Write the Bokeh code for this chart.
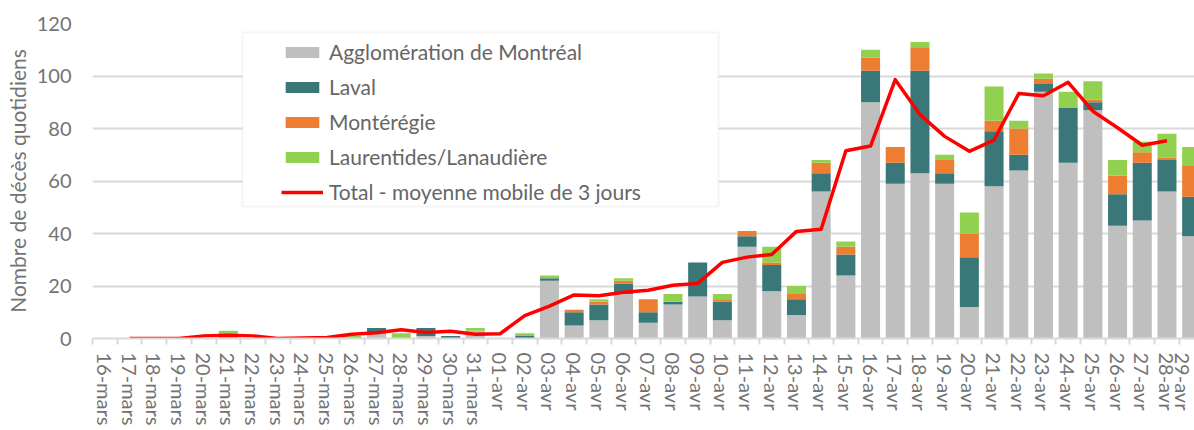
import numpy as np
from bokeh.plotting import figure
from bokeh.models import (ColumnDataSource, Range1d, FixedTicker, CustomJSTickFormatter,
                          BoxAnnotation)
from bokeh.embed import file_html
from bokeh.resources import INLINE

dates = ["16-mars", "17-mars", "18-mars", "19-mars", "20-mars", "21-mars", "22-mars",
         "23-mars", "24-mars", "25-mars", "26-mars", "27-mars", "28-mars", "29-mars",
         "30-mars", "31-mars", "01-avr", "02-avr", "03-avr", "04-avr", "05-avr", "06-avr",
         "07-avr", "08-avr", "09-avr", "10-avr", "11-avr", "12-avr", "13-avr", "14-avr",
         "15-avr", "16-avr", "17-avr", "18-avr", "19-avr", "20-avr", "21-avr", "22-avr",
         "23-avr", "24-avr", "25-avr", "26-avr", "27-avr", "28-avr", "29-avr"]

montreal = [0, 0, 0, 0, 0, 0, 0, 0, 0, 0, 0, 2, 0, 1, 0, 3, 0, 0, 22, 5, 7, 17, 6, 13,
            16, 7, 35, 18, 9, 56, 24, 90, 59, 63, 59, 12, 58, 64, 94, 67, 87, 43, 45, 56, 39]
laval = [0, 0, 0, 0, 0, 0, 0, 0, 0, 0, 0, 2, 0, 3, 1, 0, 0, 1, 1, 5, 6, 4, 4, 1,
         13, 7, 4, 10, 6, 7, 8, 12, 8, 39, 4, 19, 21, 6, 3, 21, 3, 12, 22, 12, 15]
monteregie = [0, 0, 0, 0, 0, 0, 0, 0, 0, 0, 0, 0, 0, 0, 0, 0, 0, 0, 0, 1, 1, 1, 5, 0,
              0, 1, 2, 1, 2, 4, 3, 5, 6, 9, 5, 9, 4, 10, 2, 0, 1, 7, 4, 1, 12]
laurentides = [0, 0, 0, 0, 0, 3, 0, 0, 0, 0, 1, 0, 2, 0, 0, 1, 0, 1, 1, 0, 1, 1, 0, 3,
               0, 2, 0, 6, 3, 1, 2, 3, 0, 2, 2, 8, 13, 3, 2, 6, 7, 6, 4, 9, 7]
moyenne_mobile = [np.nan, 0, 0, 0, 1, 1.2, 1, 0, 0.2, 0.4, 1.6, 2.2, 3.3, 2.3, 2.8, 1.6,
                  1.8, 8.7, 12.3, 16.6, 16.3, 17.6, 18.4, 20.3, 21, 29, 31, 32, 40.8, 41.6,
                  71.5, 73.3, 98.6, 85.3, 77, 71.3, 75.6, 93.3, 92.5, 97.6, 86.6, 80.3,
                  73.6, 75.3, np.nan]

series = ["montreal", "laval", "monteregie", "laurentides"]
series_labels = ["Agglomération de Montréal", "Laval", "Montérégie", "Laurentides/Lanaudière"]
colors = ["#BFBFBF", "#3A7778", "#ED7D31", "#92D050"]
y_ticks = [0, 20, 40, 60, 80, 100, 120]

xs = np.arange(len(dates)) + 0.5
src = ColumnDataSource(dict(x=xs, montreal=montreal, laval=laval, monteregie=monteregie,
                            laurentides=laurentides, ma=moyenne_mobile))

FONT = "Lato"
TXT = "#737373"

p = figure(width=1194, height=430, output_backend="svg", toolbar_location=None,
           x_range=Range1d(0, 44.615), y_range=Range1d(0, 120),
           min_border_left=92, min_border_right=0, min_border_top=23, min_border_bottom=92)
p.outline_line_color = None
p.background_fill_color = "white"

box = BoxAnnotation(left=242, right=718, top=32, bottom=206,
                    left_units="canvas", right_units="canvas",
                    top_units="canvas", bottom_units="canvas",
                    fill_color="white", fill_alpha=1.0,
                    line_color="#d9d9d9", line_width=2)
p.add_layout(box)

p.vbar_stack(series, x="x", width=0.77, color=colors, line_color=None,
             source=src, legend_label=series_labels)
p.line(x="x", y="ma", source=src, line_color="#FF0000", line_width=3.5,
       line_join="round", legend_label="Total - moyenne mobile de 3 jours")

# grid
p.xgrid.grid_line_color = None
p.ygrid.grid_line_color = "#d9d9d9"
p.ygrid.grid_line_width = 2

# x axis
xa = p.xaxis[0]
xa.ticker = FixedTicker(ticks=list(xs), minor_ticks=list(range(0, len(dates) + 1)))
xa.formatter = CustomJSTickFormatter(args=dict(labels=dates),
                                     code="return labels[Math.floor(tick)] || '';")
xa.major_tick_line_color = None
xa.major_tick_out = 0
xa.major_tick_in = 0
xa.minor_tick_out = 6
xa.minor_tick_in = 0
xa.minor_tick_line_color = "#d9d9d9"
xa.minor_tick_line_width = 2
xa.axis_line_color = "#d9d9d9"
xa.axis_line_width = 2
xa.major_label_orientation = "vertical"
xa.major_label_standoff = 8
xa.major_label_text_font = FONT
xa.major_label_text_font_size = "20px"
xa.major_label_text_color = TXT

# y axis
ya = p.yaxis[0]
ya.ticker = FixedTicker(ticks=y_ticks, minor_ticks=[])
ya.axis_line_color = None
ya.major_tick_line_color = None
ya.minor_tick_line_color = None
ya.major_tick_out = 0
ya.major_tick_in = 0
ya.major_label_standoff = 21
ya.major_label_text_font = FONT
ya.major_label_text_font_size = "20px"
ya.major_label_text_color = TXT
ya.axis_label = "Nombre de décès quotidiens"
ya.axis_label_text_font = FONT
ya.axis_label_text_font_size = "21px"
ya.axis_label_text_font_style = "normal"
ya.axis_label_text_color = TXT
ya.axis_label_standoff = 4

# legend
lg = p.legend[0]
lg.location = (189, 134)
lg.background_fill_alpha = 0
lg.border_line_color = None
lg.padding = 5
lg.spacing = 10
lg.label_height = 24
lg.glyph_height = 14
lg.glyph_width = 42
lg.label_standoff = 6
lg.label_text_font = FONT
lg.label_text_font_size = "21px"
lg.label_text_color = "#666666"

open("out.html", "w").write(file_html(p, INLINE))
